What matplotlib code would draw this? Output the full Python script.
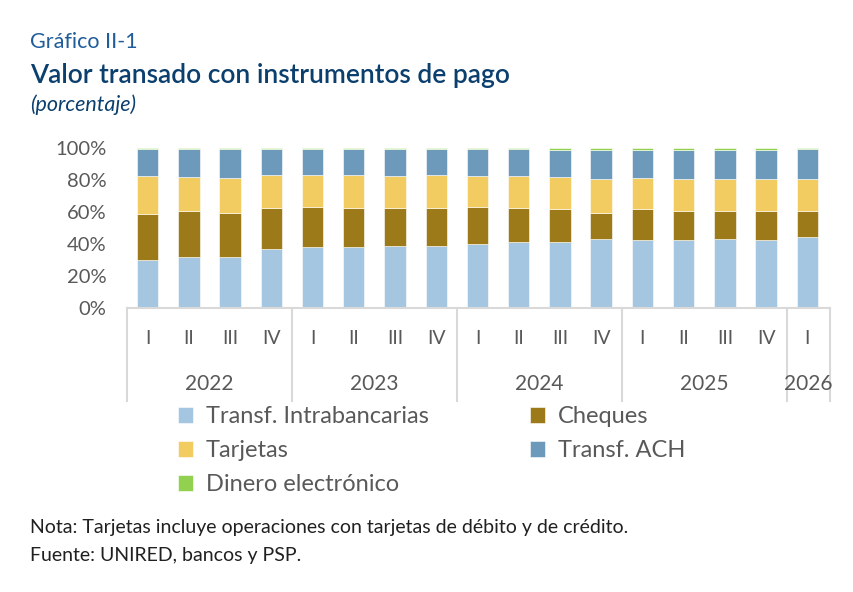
import numpy as np
import matplotlib.pyplot as plt
import matplotlib.transforms as mtransforms

plt.rcParams['font.family'] = ['Lato', 'DejaVu Sans']

quarters = ["I", "II", "III", "IV"] * 4 + ["I"]
years = ["2022", "2023", "2024", "2025", "2026"]
year_sizes = [4, 4, 4, 4, 1]

intra = [29.8, 31.6, 31.6, 36.6, 37.9, 37.9, 38.7, 38.7, 40.0, 41.4, 41.4, 42.9, 42.3, 42.3, 42.9, 42.3, 44.4]
cheq_top = [58.8, 60.8, 59.6, 62.3, 62.9, 62.3, 62.3, 62.3, 62.9, 62.3, 61.6, 59.6, 61.6, 60.8, 60.8, 60.8, 60.8]
tarj_top = [82.5, 81.6, 81.0, 83.1, 83.1, 83.1, 82.5, 83.1, 82.5, 82.5, 81.6, 80.4, 81.0, 80.4, 80.4, 80.4, 80.4]
ach_top = [99.4, 99.4, 99.4, 99.4, 99.4, 99.4, 99.4, 99.4, 99.2, 99.2, 98.5, 98.5, 98.5, 98.5, 98.5, 98.5, 99.2]

cheques = np.array(cheq_top) - np.array(intra)
tarjetas = np.array(tarj_top) - np.array(cheq_top)
ach = np.array(ach_top) - np.array(tarj_top)
dinero = 100 - np.array(ach_top)

series = [("Transf. Intrabancarias", intra, "#A5C6E0"),
          ("Cheques", cheques, "#9C7A1A"),
          ("Tarjetas", tarjetas, "#F2CC60"),
          ("Transf. ACH", ach, "#6D99BA"),
          ("Dinero electrónico", dinero, "#92D050")]

txt = "#595959"
W, H = 854, 592
fig = plt.figure(figsize=(W / 100, H / 100), dpi=100)
ax = fig.add_axes([127 / W, 1 - 308 / H, 703 / W, 160 / H])

x = np.arange(len(quarters))
bottom = np.zeros(len(quarters))
handles = {}
for name, vals, col in series:
    b = ax.bar(x, vals, bottom=bottom, width=0.52, color=col, edgecolor="white", linewidth=0.4)
    handles[name] = b
    bottom = bottom + np.array(vals)

ax.set_xlim(-0.5, len(quarters) - 0.45)
ax.set_ylim(0, 100)
ax.set_yticks(np.arange(0, 101, 20))
ax.set_yticklabels([f"{v}%" for v in range(0, 101, 20)], fontsize=14.5, color=txt)
ax.tick_params(axis="y", length=0, pad=15)
ax.set_xticks([])
for s in ["top", "right", "left", "bottom"]:
    ax.spines[s].set_visible(False)

# multi-level category axis
gray = "#D9D9D9"
trans = mtransforms.blended_transform_factory(ax.transData, ax.transAxes)
ax.plot([-0.5, len(quarters) - 0.45], [0, 0], color=gray, lw=1.5, transform=trans, clip_on=False)
edges = [-0.5]
for n in year_sizes:
    edges.append(edges[-1] + n)
edges[-1] = len(quarters) - 0.45
for e in edges:
    ax.plot([e, e], [0, -0.58], color=gray, lw=1.5, transform=trans, clip_on=False)
for i, q in enumerate(quarters):
    ax.text(i, -0.19, q, transform=trans, ha="center", va="center", fontsize=14, color=txt)
for k, yr in enumerate(years):
    ax.text((edges[k] + edges[k + 1]) / 2, -0.475, yr, transform=trans, ha="center", va="center",
            fontsize=15, color=txt)

# legend
order = ["Transf. Intrabancarias", "Tarjetas", "Dinero electrónico", "Cheques", "Transf. ACH"]
leg = fig.legend([handles[n] for n in order], order, ncol=2, loc="upper left",
                 bbox_to_anchor=(157 / W, 1 - 385 / H), frameon=False, fontsize=17,
                 handlelength=0.62, handleheight=0.62, handletextpad=0.55,
                 columnspacing=4.3, labelspacing=0.55, labelcolor=txt)

fig.text(30 / W, 1 - 42 / H, "Gráfico II-1", fontsize=15.5, color="#1F5C99", va="center")
fig.text(30 / W, 1 - 75 / H, "Valor transado con instrumentos de pago", fontsize=19,
         fontweight="semibold", color="#0B3F6E", va="center")
fig.text(30 / W, 1 - 105 / H, "(porcentaje)", fontsize=15.5, style="italic", color="#0B3F6E", va="center")
fig.text(30 / W, 1 - 528 / H, "Nota: Tarjetas incluye operaciones con tarjetas de débito y de crédito.",
         fontsize=14, color="#202020", va="center")
fig.text(30 / W, 1 - 555 / H, "Fuente: UNIRED, bancos y PSP.", fontsize=14, color="#202020", va="center")

fig.savefig("out.png", dpi=100)
